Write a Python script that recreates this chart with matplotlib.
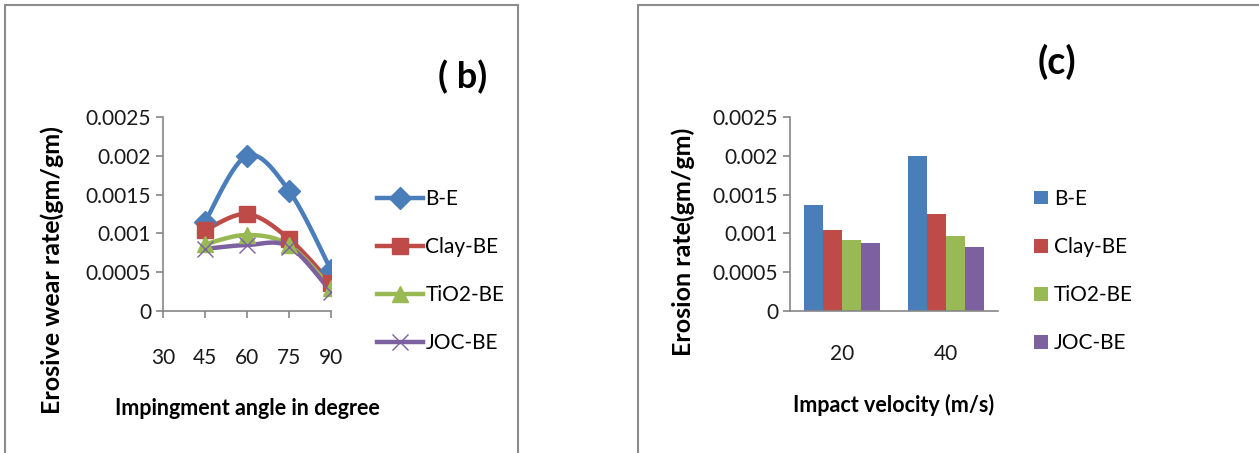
import numpy as np
import matplotlib.pyplot as plt
from matplotlib.patches import Rectangle

plt.rcParams['font.family'] = ['Lato', 'DejaVu Sans']

# data
series = ['B-E', 'Clay-BE', 'TiO2-BE', 'JOC-BE']
colors = ['#4a7ebb', '#be4b48', '#98b954', '#7d60a0']
markers = ['D', 's', '^', 'x']

angles = [45, 60, 75, 90]
wear_be = [0.00115, 0.0020, 0.00155, 0.00053]
wear_clay = [0.00104, 0.00125, 0.00093, 0.00036]
wear_tio2 = [0.00086, 0.00098, 0.00085, 0.00030]
wear_joc = [0.00080, 0.00085, 0.00083, 0.00025]

velocities = ['20', '40']
rate_be = [0.00136, 0.0020]
rate_clay = [0.00104, 0.00125]
rate_tio2 = [0.00092, 0.00097]
rate_joc = [0.00087, 0.00083]

yticks = [0, 0.0005, 0.001, 0.0015, 0.002, 0.0025]
ytick_labels = ['0', '0.0005', '0.001', '0.0015', '0.002', '0.0025']


def smooth(x, y, n=30):
    # catmull-rom style smoothing, like the spreadsheet "smoothed line"
    x = np.asarray(x, float)
    y = np.asarray(y, float)
    px = np.concatenate([[x[0]], x, [x[-1]]])
    py = np.concatenate([[y[0]], y, [y[-1]]])
    xs, ys = [], []
    t = np.linspace(0, 1, n)
    for i in range(1, len(px) - 2):
        p0 = np.array([px[i], py[i]])
        p3 = np.array([px[i + 1], py[i + 1]])
        p1 = p0 + (np.array([px[i + 1], py[i + 1]]) - np.array([px[i - 1], py[i - 1]])) / 6
        p2 = p3 - (np.array([px[i + 2], py[i + 2]]) - np.array([px[i], py[i]])) / 6
        b = ((1 - t) ** 3)[:, None] * p0 + (3 * (1 - t) ** 2 * t)[:, None] * p1 \
            + (3 * (1 - t) * t ** 2)[:, None] * p2 + (t ** 3)[:, None] * p3
        xs.extend(b[:, 0])
        ys.extend(b[:, 1])
    return xs, ys


W, H = 1259, 453
fig = plt.figure(figsize=(W / 100, H / 100), dpi=100)

# panel borders
fig.patches.append(Rectangle((5 / W, -0.05), 513 / W, 1 - 5 / H + 0.05, transform=fig.transFigure,
                             fill=False, edgecolor='#8c8c8c', linewidth=1.5))
fig.patches.append(Rectangle((638 / W, -0.05), 0.6, 1 - 5 / H + 0.05, transform=fig.transFigure,
                             fill=False, edgecolor='#8c8c8c', linewidth=1.5))

axis_col = '#868686'
tick_fs = 15
lab_fs = 18


def style(ax):
    for s in ['top', 'right']:
        ax.spines[s].set_visible(False)
    for s in ['left', 'bottom']:
        ax.spines[s].set_color(axis_col)
        ax.spines[s].set_linewidth(1.2)
    ax.set_ylim(0, 0.0025)
    ax.set_yticks(yticks)
    ax.set_yticklabels(ytick_labels)
    ax.tick_params(colors=axis_col, labelcolor='#1a1a1a', labelsize=tick_fs, length=5, width=1.2)


# ---- (b) line chart
ax1 = fig.add_axes([163 / W, 1 - 311 / H, 168 / W, 194 / H])
style(ax1)
wear = [wear_be, wear_clay, wear_tio2, wear_joc]
handles = []
for name, vals, c, m in zip(series, wear, colors, markers):
    sx, sy = smooth(angles, vals)
    ax1.plot(sx, sy, color=c, linewidth=3.2, solid_capstyle='round', zorder=2)
    ax1.plot(angles, vals, linestyle='none', marker=m, color=c, markersize=11 if m != 'x' else 12,
             markeredgewidth=1, zorder=3)
    h, = ax1.plot([], [], color=c, linewidth=3.2, marker=m, markersize=11 if m != 'x' else 12,
                  markeredgewidth=1)
    handles.append(h)
ax1.set_xlim(30, 90)
ax1.set_xticks([30, 45, 60, 75, 90])
ax1.tick_params(axis='x', pad=22)
ax1.set_ylabel('Erosive wear rate(gm/gm)', fontsize=lab_fs, fontweight='bold')
ax1.yaxis.set_label_coords(-0.59, (311 - 270) / 194)
ax1.set_xlabel('Impingment angle in degree', fontsize=15.5, fontweight='bold', labelpad=21)
ax1.legend(handles, series, loc='center left', bbox_to_anchor=(367 / W, 1 - 271 / H),
           bbox_transform=fig.transFigure, frameon=False, fontsize=tick_fs,
           handlelength=2.2, handletextpad=0.1, labelspacing=1.35, borderpad=0)
fig.text(463 / W, 1 - 77 / H, '( b)', fontsize=26, fontweight='bold', ha='center', va='center')

# ---- (c) bar chart
ax2 = fig.add_axes([790 / W, 1 - 311 / H, 208 / W, 194 / H])
style(ax2)
rates = [rate_be, rate_clay, rate_tio2, rate_joc]
x = np.arange(len(velocities))
bw = 0.183
for i, (name, vals, c) in enumerate(zip(series, rates, colors)):
    ax2.bar(x + (i - 1.5) * bw, vals, width=bw, color=c, label=name, zorder=2)
ax2.set_xlim(-0.5, 1.5)
ax2.set_xticks(x)
ax2.set_xticklabels(velocities)
ax2.tick_params(axis='x', length=0, pad=24)
ax2.set_ylabel('Erosion rate(gm/gm)', fontsize=lab_fs, fontweight='bold')
ax2.yaxis.set_label_coords(-0.455, (311 - 242) / 194)
ax2.set_xlabel('Impact velocity (m/s)', fontsize=15.5, fontweight='bold', labelpad=21)
ax2.legend(loc='center left', bbox_to_anchor=(1024 / W, 1 - 271 / H),
           bbox_transform=fig.transFigure, frameon=False, fontsize=tick_fs,
           handlelength=0.65, handleheight=0.65, handletextpad=0.3, labelspacing=1.35, borderpad=0)
fig.text(1057 / W, 1 - 62 / H, '(c)', fontsize=27, fontweight='bold', ha='center', va='center')

fig.savefig('out.png', dpi=100)
